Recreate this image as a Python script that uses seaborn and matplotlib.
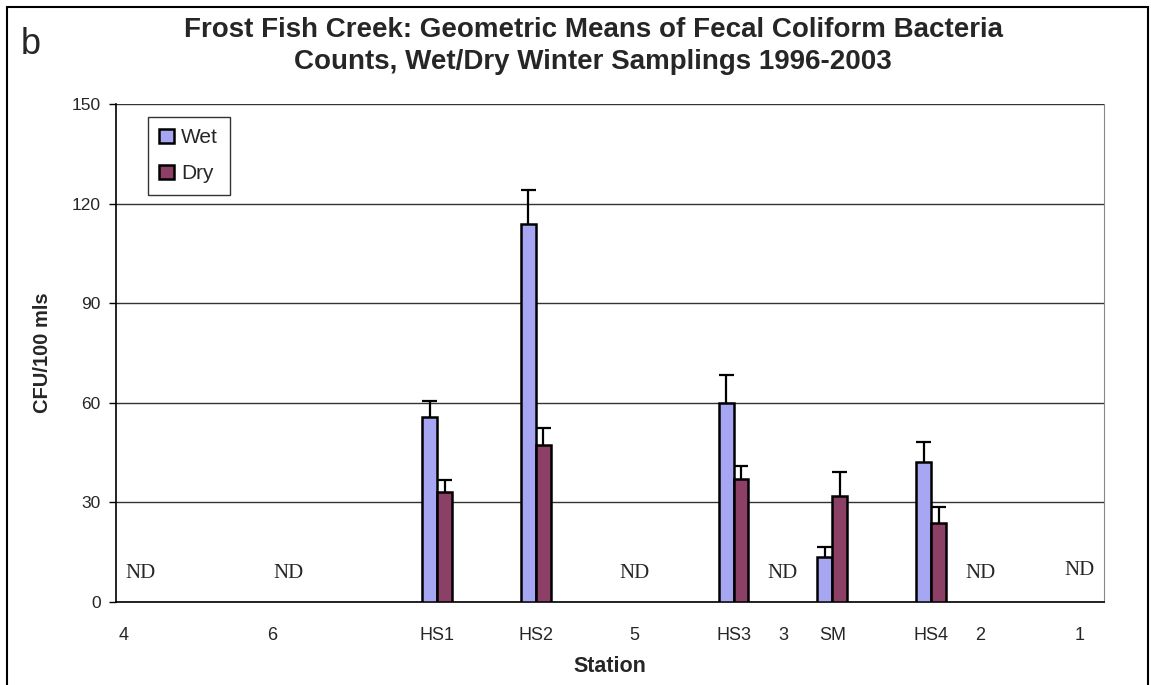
import numpy as np
import pandas as pd
import matplotlib
matplotlib.use("Agg")
import matplotlib.pyplot as plt
import matplotlib.transforms as mtransforms
import seaborn as sns
from matplotlib.patches import Rectangle

# station labels and the category slot each one sits in (20 slots on the axis)
stations = ["4", "6", "HS1", "HS2", "5", "HS3", "3", "SM", "HS4", "2", "1"]
slots = [0, 3, 6, 8, 10, 12, 13, 14, 16, 17, 19]
n_slots = 20

# geometric means (CFU/100 mls), NaN = no data
wet = [np.nan, np.nan, 55.7, 113.9, np.nan, 60.0, np.nan, 13.6, 42.1, np.nan, np.nan]
dry = [np.nan, np.nan, 33.1, 47.3, np.nan, 37.0, np.nan, 31.9, 23.7, np.nan, np.nan]
# upper error bar lengths
wet_err = [np.nan, np.nan, 4.8, 10.1, np.nan, 8.4, np.nan, 3.1, 6.0, np.nan, np.nan]
dry_err = [np.nan, np.nan, 3.6, 5.0, np.nan, 4.0, np.nan, 7.3, 4.8, np.nan, np.nan]

# stations marked "ND" and the height of the label
nd_stations = ["4", "6", "5", "3", "2", "1"]
nd_y = [8.5, 8.5, 8.5, 8.5, 8.5, 9.5]

rows = []
for st, sl, w, d in zip(stations, slots, wet, dry):
    if not np.isnan(w):
        rows.append({"slot": sl, "cond": "Wet", "value": w})
    if not np.isnan(d):
        rows.append({"slot": sl, "cond": "Dry", "value": d})
df = pd.DataFrame(rows)

errs = {"Wet": dict(zip(slots, wet_err)), "Dry": dict(zip(slots, dry_err))}

sns.set_style("white")
plt.rcParams["font.family"] = ["Liberation Sans", "DejaVu Sans"]

fig = plt.figure(figsize=(11.51, 6.85), dpi=100)
ax = fig.add_axes([116 / 1151, 83 / 685, 988 / 1151, 498 / 685])

sns.barplot(data=df, x="slot", y="value", hue="cond", order=list(range(n_slots)),
            hue_order=["Wet", "Dry"], palette={"Wet": "#9999FF", "Dry": "#993366"},
            width=0.6, edgecolor="black", linewidth=1.8, errorbar=None, ax=ax,
            zorder=3)

# upper-only error bars with a single cap
for cont, cond in zip(ax.containers, ["Wet", "Dry"]):
    for bar in cont:
        h = bar.get_height()
        if np.isnan(h) or h == 0:
            continue
        bw = bar.get_width()
        xc = bar.get_x() + bw / 2
        e = errs[cond][int(round(xc))]
        ax.vlines(xc, h, h + e, color="black", linewidth=1.6, zorder=2)
        ax.hlines(h + e, xc - bw * 0.5, xc + bw * 0.5, color="black", linewidth=1.6, zorder=2)

# ND labels
for st, yv in zip(nd_stations, nd_y):
    ax.text(slots[stations.index(st)], yv, "ND", ha="center", va="center",
            fontsize=15, family="Liberation Serif")

ax.set_xlim(-0.5, n_slots - 0.5)
ax.set_ylim(0, 150)
ax.set_yticks(range(0, 151, 30))
ax.yaxis.grid(True, color="#333333", linewidth=1)
ax.set_axisbelow(True)

ax.set_xticks(slots)
ax.set_xticklabels(stations)
ax.set_xticks(np.arange(-0.5, n_slots, 1), minor=True)
ax.tick_params(axis="x", which="major", length=0, pad=18, labelsize=13)
ax.tick_params(axis="x", which="minor", length=6, width=1, direction="out", color="black")
ax.tick_params(axis="y", length=5, width=1, direction="out", color="black", labelsize=12.5, pad=6)
ax.tick_params(left=True)

# the first two station labels sit a little left of their slot in the original
shift = mtransforms.ScaledTranslation(-17 / 100, 0, fig.dpi_scale_trans)
for lab in ax.get_xticklabels()[:2]:
    lab.set_transform(lab.get_transform() + shift)

for s in ["left", "bottom"]:
    ax.spines[s].set_color("black")
    ax.spines[s].set_linewidth(1.2)
ax.spines["top"].set_visible(False)
ax.spines["right"].set_color("#888888")

ax.set_xlabel("Station", fontsize=15.5, fontweight="bold", labelpad=9)
ax.set_ylabel("CFU/100 mls", fontsize=14.5, fontweight="bold", labelpad=14)

leg = ax.legend(loc="upper left", bbox_to_anchor=(32 / 988, 1 - 13 / 498), borderaxespad=0,
                fancybox=False, edgecolor="black", fontsize=15, handlelength=0.7,
                handleheight=0.7, labelspacing=0.8, borderpad=0.55, handletextpad=0.35)
leg.get_frame().set_linewidth(1)
leg.set_title(None)

fig.text(593 / 1151, 1 - 30 / 685, "Frost Fish Creek: Geometric Means of Fecal Coliform Bacteria",
         ha="center", va="center", fontsize=20, fontweight="bold")
fig.text(593 / 1151, 1 - 62 / 685, "Counts, Wet/Dry Winter Samplings 1996-2003",
         ha="center", va="center", fontsize=20, fontweight="bold")
fig.text(31 / 1151, 1 - 45 / 685, "b", ha="center", va="center", fontsize=26)

fig.patches.append(Rectangle((7 / 1151, -0.05), 1141 / 1151, 1.05 - 7 / 685,
                             transform=fig.transFigure, fill=False,
                             edgecolor="black", linewidth=1.5))

fig.savefig("out.png", dpi=100)
